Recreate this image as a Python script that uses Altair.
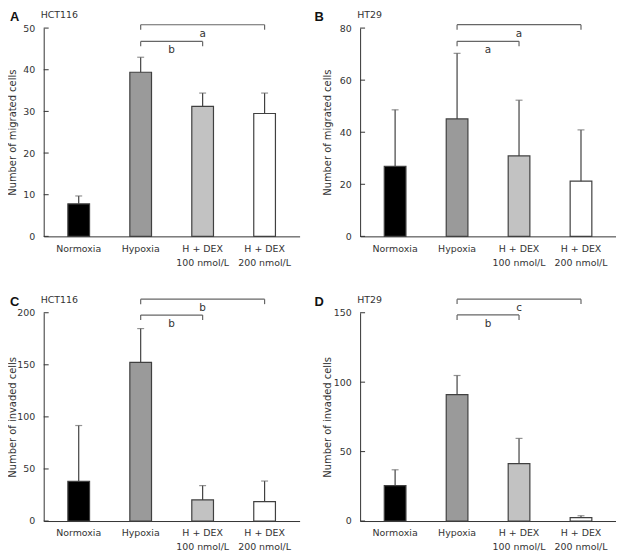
import altair as alt
import pandas as pd

cats = ["Normoxia", "Hypoxia", "H + DEX|100 nmol/L", "H + DEX|200 nmol/L"]
fills = ["#000000", "#9a9a9a", "#c2c2c2", "#ffffff"]

# Panel A (HCT116 migration)
a_mean = [7.8, 39.4, 31.2, 29.5]
a_upper = [9.7, 43.0, 34.4, 34.4]
a_ticks = [0, 10, 20, 30, 40, 50]
a_brackets = [("Hypoxia", "H + DEX|200 nmol/L", 50.8, "a"), ("Hypoxia", "H + DEX|100 nmol/L", 46.8, "b")]

# Panel B (HT29 migration)
b_mean = [26.9, 45.1, 30.9, 21.2]
b_upper = [48.6, 70.3, 52.3, 40.9]
b_ticks = [0, 20, 40, 60, 80]
b_brackets = [("Hypoxia", "H + DEX|200 nmol/L", 81.3, "a"), ("Hypoxia", "H + DEX|100 nmol/L", 74.9, "a")]

# Panel C (HCT116 invasion)
c_mean = [38.0, 152.4, 20.3, 18.7]
c_upper = [91.7, 184.8, 34.0, 38.4]
c_ticks = [0, 50, 100, 150, 200]
c_brackets = [("Hypoxia", "H + DEX|200 nmol/L", 213.0, "b"), ("Hypoxia", "H + DEX|100 nmol/L", 197.8, "b")]

# Panel D (HT29 invasion)
d_mean = [25.5, 91.0, 41.4, 2.4]
d_upper = [36.9, 104.8, 59.5, 3.8]
d_ticks = [0, 50, 100, 150]
d_brackets = [("Hypoxia", "H + DEX|200 nmol/L", 159.8, "c"), ("Hypoxia", "H + DEX|100 nmol/L", 148.4, "b")]

W = 258
H = 210
P_IN = 0.65
P_OUT = 0.39
STEP = W / (len(cats) - P_IN + 2 * P_OUT)
FONT = "DejaVu Sans"
TXT = "#333333"


def panel(tag, line, ytitle, means, uppers, ticks, brackets, tag_x, title_x):
    df = pd.DataFrame({"cat": cats, "mean": means, "upper": uppers})
    ymax = ticks[-1]
    xs = alt.X("cat:N", sort=cats,
               scale=alt.Scale(domain=cats, paddingInner=P_IN, paddingOuter=P_OUT),
               axis=alt.Axis(title=None, labelAngle=0, ticks=False, domainColor="#333333",
                             labelExpr="split(datum.label, '|')", labelFont=FONT,
                             labelFontSize=9.5, labelColor=TXT, labelPadding=7,
                             labelLineHeight=14, labelBaseline="top"))
    ys = alt.Y("mean:Q", scale=alt.Scale(domain=[0, ymax], nice=False),
               axis=alt.Axis(title=ytitle, values=ticks, tickSize=0, grid=False,
                             domainColor="#333333", labelFont=FONT, labelFontSize=9.5,
                             labelColor=TXT, labelPadding=9, titleFont=FONT,
                             titleFontSize=10, titleFontWeight="normal", titleColor=TXT,
                             titleX=title_x, titleY=H / 2, titleAngle=-90,
                             titleAlign="center", titleBaseline="middle"))
    base = alt.Chart(df)
    bars = base.mark_bar(stroke="#404040", strokeWidth=1.2).encode(
        x=xs, y=ys,
        color=alt.Color("cat:N", scale=alt.Scale(domain=cats, range=fills), legend=None))
    err = base.mark_rule(color="#404040", strokeWidth=1.2).encode(
        x=alt.X("cat:N", sort=cats), y="mean:Q", y2="upper:Q")
    cap = base.mark_tick(color="#666666", size=7, thickness=1.2).encode(
        x=alt.X("cat:N", sort=cats), y="upper:Q")
    tdf = pd.DataFrame({"t": ticks})
    yt = alt.Chart(tdf).mark_rule(color="#333333").encode(
        y="t:Q", x=alt.value(0), x2=alt.value(5))

    bdf = pd.DataFrame({"from": [b[0] for b in brackets], "to": [b[1] for b in brackets],
                        "yv": [b[2] for b in brackets], "lab": [b[3] for b in brackets]})
    bc = alt.Chart(bdf)
    hline = bc.mark_rule(color="#666666", strokeWidth=1.2, clip=False).encode(
        x=alt.X("from:N", sort=cats), x2="to:N", y="yv:Q")
    lend = bc.mark_rule(color="#666666", strokeWidth=1.2, y2Offset=5).encode(
        x=alt.X("from:N", sort=cats), y="yv:Q", y2="yv:Q")
    rend = bc.mark_rule(color="#666666", strokeWidth=1.2, y2Offset=5).encode(
        x=alt.X("to:N", sort=cats), y="yv:Q", y2="yv:Q")
    layers = [bars, err, cap, yt, hline, lend, rend]
    for i, b in enumerate(brackets):
        span = cats.index(b[1]) - cats.index(b[0])
        one = bdf.iloc[[i]]
        layers.append(alt.Chart(one).mark_text(
            dx=span * STEP / 2, dy=9, font=FONT, fontSize=10.5, color=TXT,
            baseline="middle", align="center").encode(
            x=alt.X("from:N", sort=cats), y="yv:Q", text="lab:N"))
    hd = pd.DataFrame({"tag": [tag], "line": [line]})
    layers.append(alt.Chart(hd).mark_text(
        font="Liberation Sans", fontWeight="bold", fontSize=13, color="#111111",
        align="left", baseline="middle").encode(
        x=alt.value(tag_x), y=alt.value(-11), text="tag:N"))
    layers.append(alt.Chart(hd).mark_text(
        font=FONT, fontSize=9.5, color=TXT, align="left", baseline="middle").encode(
        x=alt.value(-3), y=alt.value(-13), text="line:N"))
    return alt.layer(*layers).properties(width=W, height=H)


pa = panel("A", "HCT116", "Number of migrated cells", a_mean, a_upper, a_ticks, a_brackets, -34, -31)
pb = panel("B", "HT29", "Number of migrated cells", b_mean, b_upper, b_ticks, b_brackets, -46, -33)
pc = panel("C", "HCT116", "Number of invaded cells", c_mean, c_upper, c_ticks, c_brackets, -34, -31)
pd_ = panel("D", "HT29", "Number of invaded cells", d_mean, d_upper, d_ticks, d_brackets, -46, -33)

chart = alt.vconcat(
    alt.hconcat(pa, pb, spacing=15),
    alt.hconcat(pc, pd_, spacing=15),
    spacing=28,
).properties(padding=0).configure_view(stroke=None)

chart.save("out.html", embed_options={"renderer": "svg", "actions": False})
